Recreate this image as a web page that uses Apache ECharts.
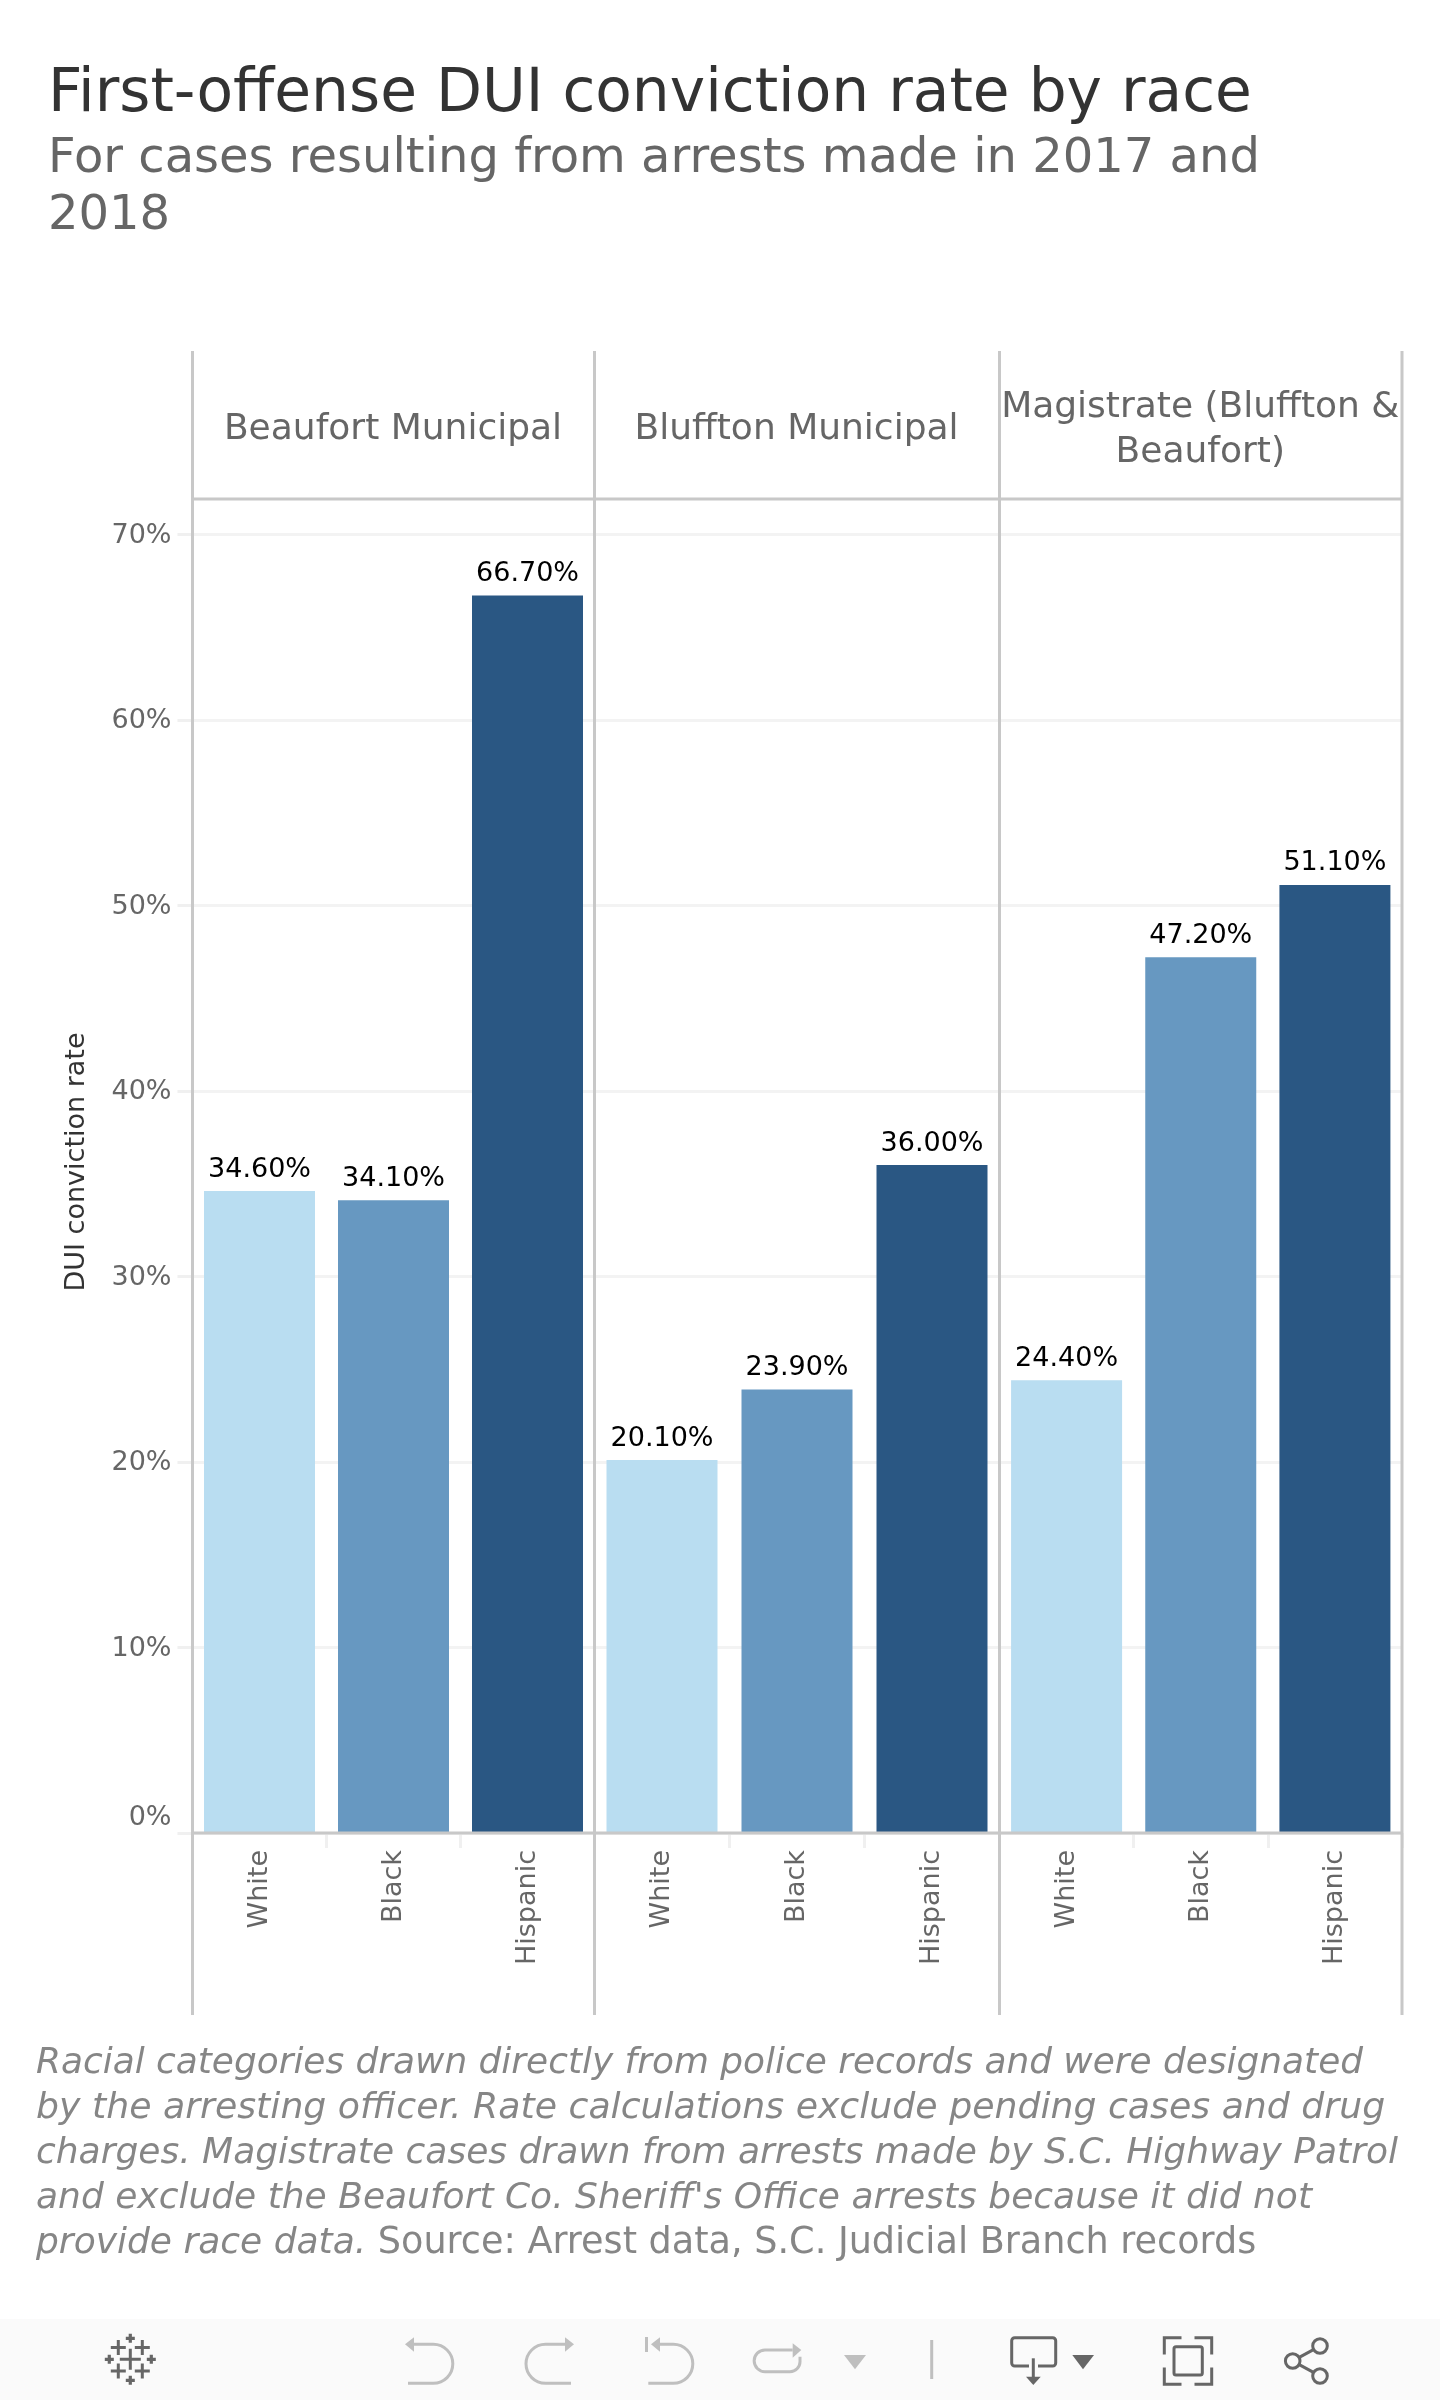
<!DOCTYPE html>
<html><head><meta charset="utf-8">
<style>html,body{margin:0;padding:0;background:#fff}#c{width:1440px;height:2400px}</style>
<script src="https://cdn.jsdelivr.net/npm/echarts@6/dist/echarts.min.js"></script>
</head><body><div id="c"></div>
<script>
const titleText = 'First-offense DUI conviction rate by race';
const subtitleText = 'For cases resulting from arrests made in 2017 and\n2018';
const courts = ['Beaufort Municipal', 'Bluffton Municipal', 'Magistrate (Bluffton &\nBeaufort)'];
const races = ['White', 'Black', 'Hispanic'];
const beaufortValues = [34.6, 34.1, 66.7];
const blufftonValues = [20.1, 23.9, 36.0];
const magistrateValues = [24.4, 47.2, 51.1];
const yAxisTitle = 'DUI conviction rate';
const raceColors = ['#b9ddf1', '#6798c1', '#2a5783'];
const panelEdges = [192.5, 594.5, 999.5, 1402];
const footnoteItalic = ['Racial categories drawn directly from police records and were designated',
  'by the arresting officer. Rate calculations exclude pending cases and drug',
  "charges. Magistrate cases drawn from arrests made by S.C. Highway Patrol",
  "and exclude the Beaufort Co. Sheriff's Office arrests because it did not"];
const footnoteLast = ['provide race data.', ' Source: Arrest data, S.C. Judicial Branch records'];

const FONT = '"DejaVu Sans", sans-serif';
const allValues = [beaufortValues, blufftonValues, magistrateValues];
const gridTop = 499, gridBottomY = 1833, frameTop = 351, frameBottom = 2015;
const FRAME = '#c8c8c8', DARK = '#666666', LIGHTICON = '#bfbfbf', NOTE = '#868686';

const chart = echarts.init(document.getElementById('c'));

const grids = [], xAxes = [], yAxes = [], series = [];
allValues.forEach((vals, i) => {
  grids.push({ left: panelEdges[i], width: panelEdges[i + 1] - panelEdges[i], top: gridTop, height: gridBottomY - gridTop });
  xAxes.push({
    type: 'category', gridIndex: i, data: races,
    axisLine: { show: false },
    axisTick: { show: true, length: 15, lineStyle: { color: '#f0f0f0', width: 3 } },
    axisLabel: { rotate: 90, color: DARK, fontSize: 27, fontFamily: FONT, margin: 17, interval: 0, padding: [4, 0, 0, 0] }
  });
  yAxes.push({
    type: 'value', gridIndex: i, min: 0, max: 71.9, interval: 10,
    name: i === 0 ? yAxisTitle : '', nameLocation: 'middle', nameGap: 102,
    nameTextStyle: { color: '#333333', fontSize: 27, fontFamily: FONT, padding: [0, 0, 0, 8] },
    axisLine: { show: false },
    axisTick: { show: i === 0, length: 15, lineStyle: { color: '#f0f0f0', width: 3 } },
    axisLabel: {
      show: i === 0, color: DARK, fontSize: 27, fontFamily: FONT, margin: 21, showMaxLabel: false,
      verticalAlignMinLabel: 'bottom', padding: [3, 0, 0, 0],
      formatter: v => v === 0 ? '{z|0%}' : v + '%',
      rich: { z: { color: DARK, fontSize: 27, fontFamily: FONT, padding: [0, 0, 2, 0] } }
    },
    splitLine: { show: true, showMaxLine: false, lineStyle: { color: '#f3f3f3', width: 3 } }
  });
  series.push({
    type: 'bar', xAxisIndex: i, yAxisIndex: i, barWidth: 111,
    data: vals.map((v, k) => ({ value: v, itemStyle: { color: raceColors[k] } })),
    label: {
      show: true, position: 'top', distance: 8, color: '#000000', fontSize: 27, fontFamily: FONT,
      formatter: p => p.value.toFixed(2) + '%'
    }
  });
});

const g = [];
g.push({ type: 'rect', z: 0, shape: { x: 0, y: 2319, width: 1440, height: 81 }, style: { fill: '#fafafa' } });
panelEdges.forEach(x => g.push({ type: 'line', z: 10, shape: { x1: x, y1: frameTop, x2: x, y2: frameBottom }, style: { stroke: FRAME, lineWidth: 3 } }));
[gridTop, gridBottomY].forEach(y => g.push({ type: 'line', z: 10, shape: { x1: panelEdges[0], y1: y, x2: panelEdges[3], y2: y }, style: { stroke: FRAME, lineWidth: 3 } }));
courts.forEach((c, i) => g.push({
  type: 'text', z: 10, x: (panelEdges[i] + panelEdges[i + 1]) / 2 - 0.5, y: 430,
  style: { text: c, fill: DARK, font: '36px ' + FONT, align: 'center', verticalAlign: 'middle', lineHeight: 45 }
}));
const fnY = 2064, fnStep = 44.8, fnSizes = [35.9, 36.24, 36, 36];
footnoteItalic.forEach((t, i) => g.push({
  type: 'text', z: 10, x: 36, y: fnY + i * fnStep,
  style: { text: t, fill: NOTE, font: 'italic ' + fnSizes[i] + 'px ' + FONT, verticalAlign: 'middle' }
}));
g.push({
  type: 'text', z: 10, x: 36, y: fnY + 4 * fnStep,
  style: {
    text: '{a|' + footnoteLast[0] + '}{b|' + footnoteLast[1] + '}', verticalAlign: 'middle',
    rich: {
      a: { fill: NOTE, font: 'italic 36px ' + FONT },
      b: { fill: NOTE, font: '36.6px ' + FONT }
    }
  }
});
// toolbar icons: each svg path becomes its own registered shape
let iconN = 0;
function icon(d, style) {
  const name = 'toolbarIcon' + (iconN++);
  echarts.graphic.registerShape(name, echarts.graphic.extendPath(d, {}));
  g.push({ type: name, z: 5, shape: {}, style });
}
function stroke(d, c, w) { icon(d, { fill: 'none', stroke: c, lineWidth: w || 3 }); }
function fill(d, c) { icon(d, { fill: c }); }
function plus(cx, cy, a, t) { fill(`M${cx - a} ${cy - t / 2}H${cx - t / 2}V${cy - a}H${cx + t / 2}V${cy - t / 2}H${cx + a}V${cy + t / 2}H${cx + t / 2}V${cy + a}H${cx - t / 2}V${cy + t / 2}H${cx - a}Z`, DARK); }
const lx = 130.3, ly = 2359.3;
plus(lx, ly, 10.5, 3);
[[-12, -11.7], [12, -11.7], [-12, 11.7], [12, 11.7]].forEach(o => plus(lx + o[0], ly + o[1], 7.5, 3));
[[0, -21], [0, 21], [-21, 0], [21, 0]].forEach(o => plus(lx + o[0], ly + o[1], 4.5, 3.2));
fill('M405 2344.3L414 2337.3V2351.7Z', LIGHTICON);
stroke('M414 2344.3H433.3A19.5 19.5 0 0 1 433.3 2383.3H408', LIGHTICON);
fill('M574 2344.3L565 2337.3V2351.7Z', LIGHTICON);
stroke('M565 2344.3H545.5A19.5 19.5 0 0 0 545.5 2383.3H571', LIGHTICON);
fill('M645 2337H648V2352H645Z', LIGHTICON);
fill('M651 2344.3L660 2337.3V2351.7Z', LIGHTICON);
stroke('M660 2344.3H673.3A19.5 19.5 0 0 1 673.3 2383.3H648.3', LIGHTICON);
fill('M801.3 2350L792.7 2343.3V2357.7Z', LIGHTICON);
stroke('M792.7 2350H765A10.8 10.8 0 0 0 765 2371.7H790A10 10 0 0 0 800 2361.7V2356.7', LIGHTICON);
fill('M844 2355H866L855 2369.3Z', LIGHTICON);
g.push({ type: 'rect', z: 5, shape: { x: 930.2, y: 2340, width: 3, height: 39 }, style: { fill: LIGHTICON } });
stroke('M1029 2366H1014.7A3 3 0 0 1 1011.7 2363V2340.7A3 3 0 0 1 1014.7 2337.7H1052.7A3 3 0 0 1 1055.7 2340.7V2363A3 3 0 0 1 1052.7 2366H1038', DARK);
stroke('M1033.3 2358.3V2377', DARK);
fill('M1026 2376.7H1040.7L1033.3 2385Z', DARK);
fill('M1072.3 2355H1094L1083 2369.3Z', DARK);
stroke('M1164.3 2354.5V2337.7H1181.5M1194.5 2337.7H1211.7V2354.5M1211.7 2367.5V2384.3H1194.5M1181.5 2384.3H1164.3V2367.5', DARK);
g.push({ type: 'rect', z: 5, shape: { x: 1174, y: 2346.7, width: 28.3, height: 28.3, r: 2 }, style: { fill: 'none', stroke: DARK, lineWidth: 3 } });
[[1292.7, 2361], [1320, 2346], [1320, 2376]].forEach(c => g.push({ type: 'circle', z: 5, shape: { cx: c[0], cy: c[1], r: 7.3 }, style: { fill: 'none', stroke: DARK, lineWidth: 3 } }));
stroke('M1299.2 2357.4L1313.5 2349.6M1299.2 2364.6L1313.5 2372.4', DARK);

chart.setOption({
  animation: false,
  backgroundColor: '#ffffff',
  title: [{
    text: titleText, subtext: subtitleText, left: 43, top: 60, itemGap: 6,
    textStyle: { color: '#333333', fontSize: 59.8, fontWeight: 'normal', fontFamily: FONT },
    subtextStyle: { color: '#666666', fontSize: 48, fontFamily: FONT, lineHeight: 57 }
  }],
  grid: grids, xAxis: xAxes, yAxis: yAxes, series,
  graphic: { elements: g }
});
</script></body></html>
